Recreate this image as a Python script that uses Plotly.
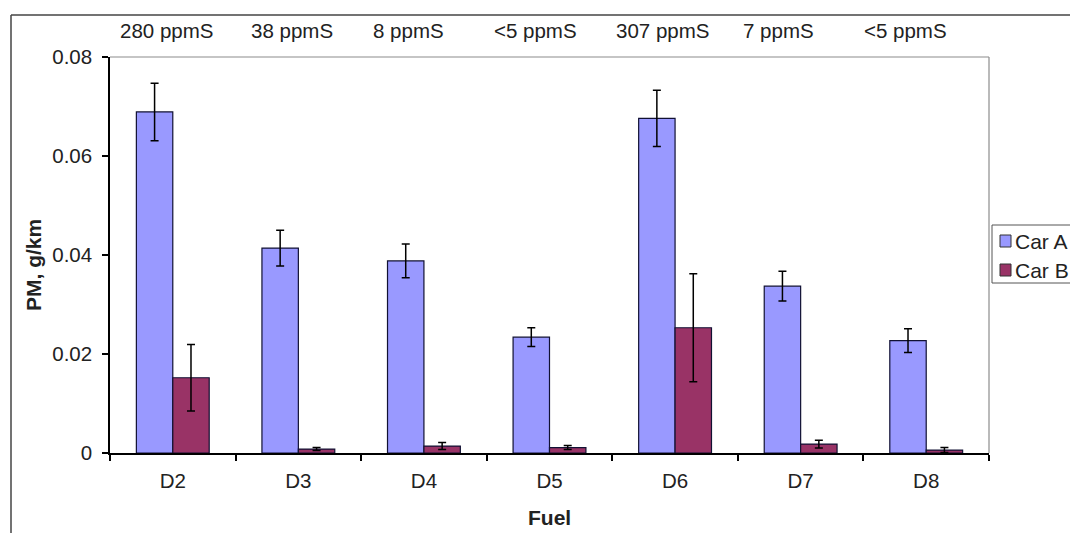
import plotly.graph_objects as go

# ---- data ----
fuels = ["D2", "D3", "D4", "D5", "D6", "D7", "D8"]
sulfur_labels = ["280 ppmS", "38 ppmS", "8 ppmS", "<5 ppmS", "307 ppmS", "7 ppmS", "<5 ppmS"]
car_a = [0.0689, 0.0414, 0.0388, 0.0234, 0.0676, 0.0337, 0.0227]
car_a_err = [0.0058, 0.0036, 0.0034, 0.0019, 0.0057, 0.0030, 0.0024]
car_b = [0.0152, 0.0008, 0.0014, 0.0011, 0.0253, 0.0018, 0.0006]
car_b_err = [0.0067, 0.0003, 0.0007, 0.0004, 0.0109, 0.0008, 0.0005]
series_names = ["Car A", "Car B"]
y_ticks = [0, 0.02, 0.04, 0.06, 0.08]
y_tick_text = ["0", "0.02", "0.04", "0.06", "0.08"]

# ---- layout geometry (pixels) ----
W, H = 1070, 533
PL, PR, PT, PB = 110, 989, 57, 453
PW, PH = PR - PL, PB - PT


def px(x):
    return (x - PL) / PW


def py(y):
    return (PB - y) / PH


COL_A = "#9999FF"
COL_B = "#993366"
FONT = "Liberation Sans, Arial, sans-serif"
TXT = "#222222"
FS = 20.5

fig = go.Figure()
for name, vals, errs, col in [(series_names[0], car_a, car_a_err, COL_A),
                              (series_names[1], car_b, car_b_err, COL_B)]:
    fig.add_trace(go.Bar(
        x=fuels, y=vals, name=name,
        marker=dict(color=col, line=dict(color="#111133", width=1.2)),
        error_y=dict(type="data", array=errs, visible=True,
                     color="#000000", thickness=1.5, width=4),
        showlegend=False,
    ))

fig.update_layout(
    width=W, height=H,
    margin=dict(l=PL, r=W - PR, t=PT, b=H - PB, pad=0),
    paper_bgcolor="white", plot_bgcolor="white",
    barmode="group", bargap=0.42, bargroupgap=0,
    font=dict(family=FONT, size=FS, color=TXT),
    xaxis=dict(
        type="category", showline=True, linecolor="#000000", linewidth=1.5,
        ticks="outside", ticklen=6, tickcolor="#000000", tickwidth=1.5,
        tickson="boundaries", showgrid=False, zeroline=False,
        tickfont=dict(size=FS), ticklabelstandoff=9,
    ),
    yaxis=dict(
        range=[0, 0.08], tickvals=y_ticks, ticktext=y_tick_text,
        showline=True, linecolor="#000000", linewidth=1.5,
        ticks="outside", ticklen=6, tickcolor="#000000", tickwidth=1.5,
        showgrid=False, zeroline=False, tickfont=dict(size=FS),
        ticklabelstandoff=6,
    ),
)

shapes = []
# outer chart frame (left + top)
shapes.append(dict(type="line", xref="paper", yref="paper",
                   x0=px(11), y0=py(H + 5), x1=px(11), y1=py(15),
                   line=dict(color="#444444", width=1.5)))
shapes.append(dict(type="line", xref="paper", yref="paper",
                   x0=px(11), y0=py(15), x1=px(W + 5), y1=py(15),
                   line=dict(color="#444444", width=1.5)))
# plot area border (top + right), gray
shapes.append(dict(type="line", xref="paper", yref="paper",
                   x0=0, y0=1, x1=1, y1=1, line=dict(color="#8c8c8c", width=1.2)))
shapes.append(dict(type="line", xref="paper", yref="paper",
                   x0=1, y0=0, x1=1, y1=1, line=dict(color="#8c8c8c", width=1.2)))
# legend box
shapes.append(dict(type="rect", xref="paper", yref="paper",
                   x0=px(992), y0=py(283), x1=px(W + 5), y1=py(225),
                   line=dict(color="#555555", width=1), fillcolor="white"))
legend_rows = [241, 270]
for (name, col), yy in zip([(series_names[0], COL_A), (series_names[1], COL_B)], legend_rows):
    shapes.append(dict(type="rect", xref="paper", yref="paper",
                       x0=px(1000), y0=py(yy + 6), x1=px(1011), y1=py(yy - 6),
                       line=dict(color="#333333", width=1), fillcolor=col))
fig.update_layout(shapes=shapes)

annotations = []
for (name, yy) in zip(series_names, legend_rows):
    annotations.append(dict(xref="paper", yref="paper", x=px(1013), y=py(yy),
                            text=name, showarrow=False, xanchor="left", yanchor="middle",
                            font=dict(size=21, color=TXT)))
# sulfur content labels above the plot
label_centers_px = [166, 292, 408, 535, 662, 778, 905]
for lab, cx in zip(sulfur_labels, label_centers_px):
    annotations.append(dict(xref="paper", yref="paper", x=px(cx), y=py(30),
                            text=lab, showarrow=False, xanchor="center", yanchor="middle",
                            font=dict(size=FS, color=TXT)))
# axis titles
annotations.append(dict(xref="paper", yref="paper", x=px(549), y=py(517),
                        text="<b>Fuel</b>", showarrow=False, xanchor="center", yanchor="middle",
                        font=dict(size=21, color=TXT)))
annotations.append(dict(xref="paper", yref="paper", x=px(33), y=py(265),
                        text="<b>PM, g/km</b>", showarrow=False, textangle=-90,
                        xanchor="center", yanchor="middle",
                        font=dict(size=21, color=TXT)))
fig.update_layout(annotations=annotations)

fig.write_html("out.html")
